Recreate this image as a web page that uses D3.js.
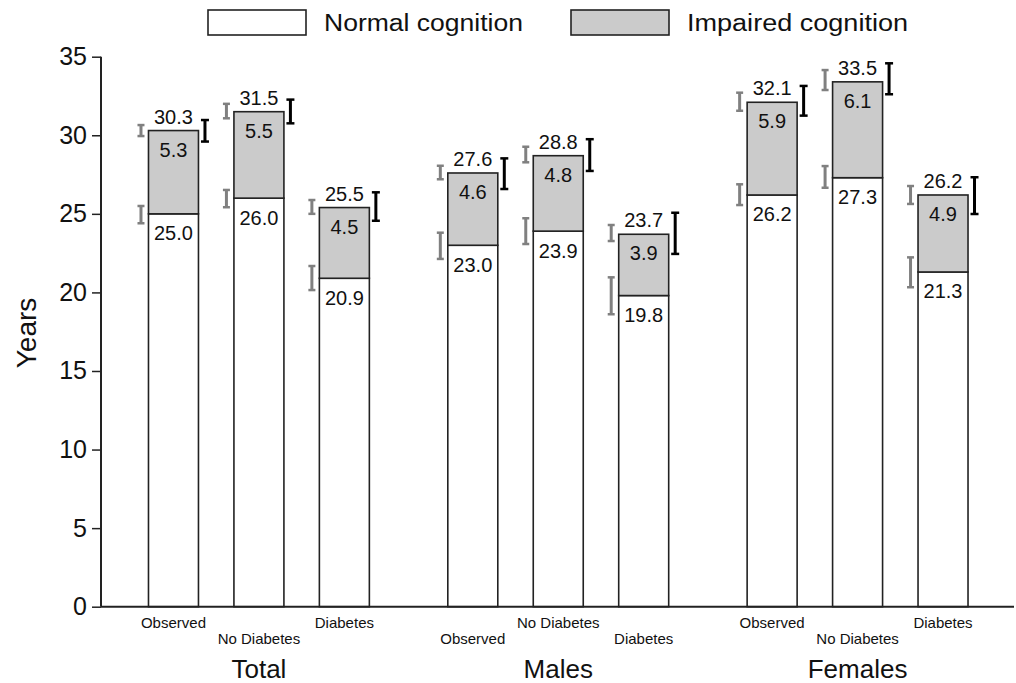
<!DOCTYPE html>
<html>
<head>
<meta charset="utf-8">
<script src="https://cdn.jsdelivr.net/npm/d3@7"></script>
<style>
  body { margin: 0; background: #fff; }
  svg { display: block; font-family: "Liberation Sans", Arial, sans-serif; }
</style>
</head>
<body>
<svg width="1016" height="683"></svg>
<script>
var svg = d3.select("svg");

// groups and scenarios
var groups = ["Total", "Males", "Females"];
var scenarios = ["Observed", "No Diabetes", "Diabetes"];

// years with normal / impaired cognition, order: Total, Males, Females x scenarios
var normalYears = [25.0, 26.0, 20.9, 23.0, 23.9, 19.8, 26.2, 27.3, 21.3];
var impairedYears = [5.3, 5.5, 4.5, 4.6, 4.8, 3.9, 5.9, 6.1, 4.9];
var totalYears = [30.3, 31.5, 25.5, 27.6, 28.8, 23.7, 32.1, 33.5, 26.2];

// confidence intervals
var ciNormal = [[24.4, 25.5], [25.42, 26.52], [20.15, 21.68],
                [22.13, 23.8], [23.08, 24.72], [18.61, 20.96],
                [25.56, 26.88], [26.66, 28.04], [20.33, 22.23]];
var ciTotal = [[29.95, 30.65], [31.08, 32.0], [25.0, 25.88],
               [27.2, 28.06], [28.28, 29.27], [23.27, 24.29],
               [31.56, 32.71], [32.88, 34.15], [25.63, 26.77]];
var ciImpaired = [[29.6, 30.97], [30.76, 32.27], [24.56, 26.37],
                  [26.58, 28.53], [27.73, 29.75], [22.45, 25.07],
                  [31.25, 33.14], [32.61, 34.58], [24.99, 27.33]];

var yTicks = [0, 5, 10, 15, 20, 25, 30, 35];

var upcolor = "#ffffff";
var impcolor = "#cbcbcb";
var strokecolor = "#222222";

var axisX = 101;
var axisEnd = 1014;

var y = d3.scaleLinear().domain([0, 35]).range([606.7, 56.7]);

var x0 = d3.scaleBand().domain(groups)
  .range([130.75, 985.75])
  .paddingInner(0.1436).paddingOuter(0);

var x1 = d3.scaleBand().domain(scenarios)
  .range([0, x0.bandwidth()])
  .paddingInner(0.415).paddingOuter(0.2075);

var data = [];
groups.forEach(function(g, gi) {
  scenarios.forEach(function(s, si) {
    var k = gi * 3 + si;
    data.push({
      k: k, group: g, scen: s,
      normal: normalYears[k], impaired: impairedYears[k], total: totalYears[k],
      ciN: ciNormal[k], ciT: ciTotal[k], ciI: ciImpaired[k],
      x: x0(g) + x1(s)
    });
  });
});

var bw = x1.bandwidth();

// y axis
var yAxis = svg.append("g")
  .attr("transform", "translate(" + axisX + ",0)")
  .call(d3.axisLeft(y).tickValues(yTicks).tickSize(9).tickPadding(5));
yAxis.select(".domain").attr("stroke", "#222").attr("stroke-width", 2)
  .attr("d", "M0," + y(35) + "V" + y(0));
yAxis.selectAll(".tick line").attr("stroke", "#222").attr("stroke-width", 1.5);
yAxis.selectAll(".tick text").attr("font-size", 25).attr("fill", "#111")
  .attr("font-family", "Liberation Sans, Arial, sans-serif");

svg.append("text")
  .attr("transform", "translate(36,333) rotate(-90)")
  .attr("text-anchor", "middle")
  .attr("font-size", 28)
  .attr("fill", "#111")
  .text("Years");

// bars
var bars = svg.append("g");

bars.selectAll(".normal")
  .data(data).enter().append("rect")
  .attr("class", "normal")
  .attr("x", function(d) { return d.x; })
  .attr("width", bw)
  .attr("y", function(d) { return y(d.normal); })
  .attr("height", function(d) { return y(0) - y(d.normal); })
  .attr("fill", upcolor)
  .attr("stroke", strokecolor)
  .attr("stroke-width", 1.6);

bars.selectAll(".impaired")
  .data(data).enter().append("rect")
  .attr("class", "impaired")
  .attr("x", function(d) { return d.x; })
  .attr("width", bw)
  .attr("y", function(d) { return y(d.normal + d.impaired); })
  .attr("height", function(d) { return y(d.normal) - y(d.normal + d.impaired); })
  .attr("fill", impcolor)
  .attr("stroke", strokecolor)
  .attr("stroke-width", 1.6);

// x axis line
svg.append("line")
  .attr("x1", axisX).attr("x2", axisEnd)
  .attr("y1", y(0)).attr("y2", y(0))
  .attr("stroke", "#222").attr("stroke-width", 2);

// error bars
var errbar = function(cls, acc, dx, color, cap) {
  var g = svg.selectAll("." + cls).data(data).enter().append("g")
    .attr("class", cls)
    .attr("transform", function(d) { return "translate(" + (d.x + dx(d)) + ",0)"; });
  g.append("line")
    .attr("y1", function(d) { return y(acc(d)[0]); })
    .attr("y2", function(d) { return y(acc(d)[1]); })
    .attr("stroke", color).attr("stroke-width", 3);
  [0, 1].forEach(function(e) {
    g.append("line")
      .attr("x1", -cap / 2).attr("x2", cap / 2)
      .attr("y1", function(d) { return y(acc(d)[e]); })
      .attr("y2", function(d) { return y(acc(d)[e]); })
      .attr("stroke", color).attr("stroke-width", 2.5);
  });
};

errbar("errN", function(d) { return d.ciN; }, function(d) { return -7.5; }, "#808080", 7);
errbar("errT", function(d) { return d.ciT; }, function(d) { return -7.5; }, "#808080", 7);
errbar("errI", function(d) { return d.ciI; }, function(d) { return bw + 6.5; }, "#000000", 8);

// value labels
var labels = svg.append("g").attr("font-size", 20).attr("fill", "#111").attr("text-anchor", "middle");

labels.selectAll(".lt").data(data).enter().append("text")
  .attr("x", function(d) { return d.x + bw / 2; })
  .attr("y", function(d) { return y(d.normal + d.impaired) - 7; })
  .text(function(d) { return d.total.toFixed(1); });

labels.selectAll(".li").data(data).enter().append("text")
  .attr("x", function(d) { return d.x + bw / 2; })
  .attr("y", function(d) { return y(d.normal + d.impaired) + 26; })
  .text(function(d) { return d.impaired.toFixed(1); });

labels.selectAll(".ln").data(data).enter().append("text")
  .attr("x", function(d) { return d.x + bw / 2; })
  .attr("y", function(d) { return y(d.normal) + 26.5; })
  .text(function(d) { return d.normal.toFixed(1); });

// category labels, staggered
svg.append("g").selectAll("text").data(data).enter().append("text")
  .attr("x", function(d) { return d.x + bw / 2; })
  .attr("y", function(d) { return d.k % 2 === 0 ? 628 : 644; })
  .attr("text-anchor", "middle")
  .attr("font-size", 15)
  .attr("fill", "#111")
  .text(function(d) { return d.scen; });

svg.append("g").selectAll("text").data(groups).enter().append("text")
  .attr("x", function(g) { return x0(g) + x0.bandwidth() / 2; })
  .attr("y", 678)
  .attr("text-anchor", "middle")
  .attr("font-size", 26)
  .attr("fill", "#111")
  .text(function(g) { return g; });

// legend
var legendItems = [
  {label: "Normal cognition", fill: upcolor, x: 208, len: 199},
  {label: "Impaired cognition", fill: impcolor, x: 571, len: 221}
];
var leg = svg.append("g").selectAll("g").data(legendItems).enter().append("g")
  .attr("transform", function(d) { return "translate(" + d.x + ",10)"; });
leg.append("rect")
  .attr("width", 98).attr("height", 25)
  .attr("fill", function(d) { return d.fill; })
  .attr("stroke", strokecolor).attr("stroke-width", 1.6);
leg.append("text")
  .attr("x", 116).attr("y", 21)
  .attr("font-size", 23)
  .attr("fill", "#111")
  .attr("textLength", function(d) { return d.len; })
  .attr("lengthAdjust", "spacingAndGlyphs")
  .text(function(d) { return d.label; });
</script>
</body>
</html>
